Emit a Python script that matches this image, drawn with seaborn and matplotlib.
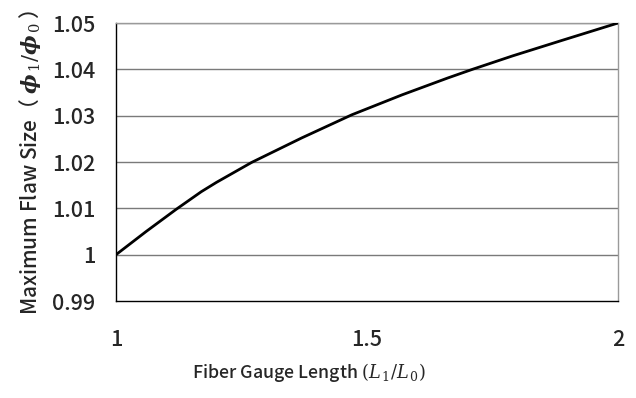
import matplotlib
matplotlib.use("Agg")
import matplotlib.pyplot as plt
import seaborn as sns
import pandas as pd

gauge_length = [1.0, 1.06, 1.12, 1.17, 1.2, 1.27, 1.37, 1.47, 1.57, 1.66, 1.71, 1.79, 1.89, 2.0]
flaw_size = [1.0, 1.005, 1.0098, 1.0136, 1.0156, 1.0199, 1.0252, 1.0302, 1.0345, 1.0381, 1.04, 1.0429, 1.0463, 1.05]
x_ticks = [1, 1.5, 2]
x_tick_labels = ["1", "1.5", "2"]
y_ticks = [0.99, 1.0, 1.01, 1.02, 1.03, 1.04, 1.05]
y_tick_labels = ["0.99", "1", "1.01", "1.02", "1.03", "1.04", "1.05"]

sns.set_style("white")
plt.rcParams["font.family"] = ["Noto Sans CJK JP", "DejaVu Sans"]
plt.rcParams["mathtext.fontset"] = "dejavuserif"

df = pd.DataFrame({"x": gauge_length, "y": flaw_size})

fig = plt.figure(figsize=(6.36, 3.98), dpi=100)
ax = fig.add_axes([0.1824, 0.2437, 0.7893, 0.6985])

for yv in y_ticks[1:]:
    ax.axhline(yv, color="#7a7a7a", lw=1.0, zorder=1)

sns.lineplot(data=df, x="x", y="y", ax=ax, color="black", lw=2.0, zorder=3)

ax.set_xlim(1, 2)
ax.set_ylim(0.99, 1.05)
ax.set_xticks(x_ticks)
ax.set_xticklabels(x_tick_labels, fontsize=15.5, fontweight=500)
ax.set_yticks(y_ticks)
ax.set_yticklabels(y_tick_labels, fontsize=15.5, fontweight=500)
ax.tick_params(axis="x", direction="in", length=5, width=1, color="#555555", pad=20)
ax.tick_params(axis="y", direction="in", length=6, width=1, color="#333333", pad=15)

for s in ["left", "bottom"]:
    ax.spines[s].set_color("black")
    ax.spines[s].set_linewidth(1.0)
for s in ["right", "top"]:
    ax.spines[s].set_color("#9a9a9a")
    ax.spines[s].set_linewidth(1.0)

ax.set_xlabel("Fiber Gauge Length $(L_{\\,1}/L_{\\,0})$", fontsize=12.8, fontweight=500, labelpad=7)
ax.xaxis.label.set_x(0.3845)
ax.set_ylabel("Maximum Flaw Size（ $\\boldsymbol{\\phi}_{\\,1}/\\boldsymbol{\\phi}_{\\,0}$ ）",
              fontsize=15, fontweight=500, labelpad=6)

fig.savefig("out.png", dpi=100)
